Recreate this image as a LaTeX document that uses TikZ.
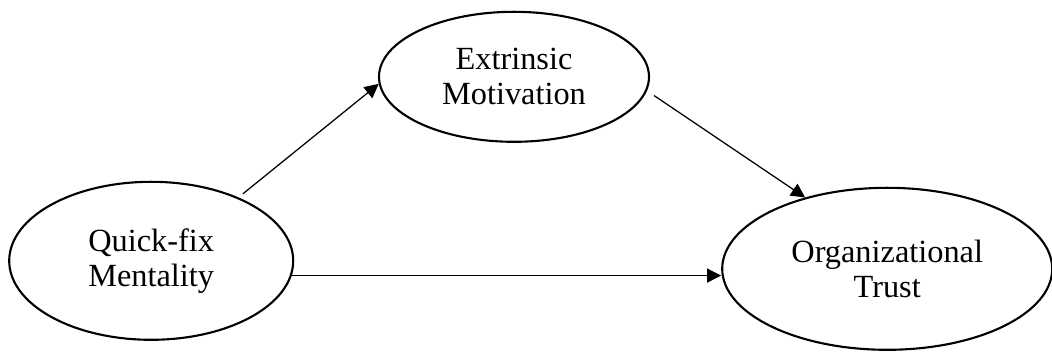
\documentclass[tikz,border=0pt]{standalone}
\usepackage{fontspec}
\setmainfont{Liberation Serif}
\usetikzlibrary{shapes, arrows.meta}

\tikzset{
	construct/.style={ellipse, draw, line width=1.5pt, inner sep=0pt, align=center, font=\fontsize{23}{25}\selectfont},
	path/.style={line width=0.9pt, -{Triangle[length=10pt, width=10pt]}}
}

\begin{document}
\begin{tikzpicture}
	\useasboundingbox (0,0) rectangle (26.3,8.8);
	\node[construct, minimum width=7.1cm, minimum height=3.95cm] (qf) at (3.78,2.28) {Quick-fix\\Mentality};
	\node[construct, minimum width=6.75cm, minimum height=3.25cm] (em) at (12.85,6.88) {Extrinsic\\Motivation};
	\node[construct, minimum width=8.25cm, minimum height=4.05cm] (ot) at (22.18,2.08) {Organizational\\Trust};
	\draw[path, shorten <=4pt] (qf.36) -- (em.183);
	\draw[path, shorten <=6pt] (em.-6) -- (ot.139);
	\draw[path] (qf.-6) -- (qf.-6 -| ot.west);
\end{tikzpicture}
\end{document}
